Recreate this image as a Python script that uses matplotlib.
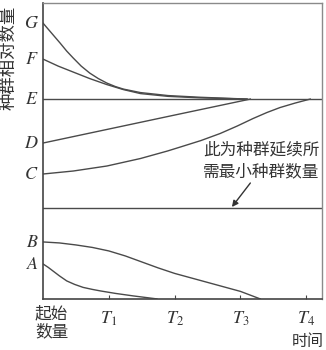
import matplotlib.pyplot as plt

plt.rcParams['font.family'] = ['Noto Sans CJK SC', 'DejaVu Sans']
plt.rcParams['mathtext.fontset'] = 'stix'

start_labels = ["G", "F", "E", "D", "C", "B", "A"]
level_e = 200
level_min = 91

# curve points as (time, relative size)
g_x = [0, 0.13, 0.26, 0.36, 0.46, 0.58, 0.71, 0.84, 0.97, 1.1, 1.22, 1.48, 1.9, 2.39, 3.1]
g_y = [276, 266, 256, 248, 241, 233, 226, 220.5, 216, 212.5, 210, 206.5, 203.5, 201.8, 200]
f_x = [0, 0.23, 0.46, 0.71, 0.97, 1.22, 1.48, 1.9, 2.39, 3.1]
f_y = [240, 233, 227, 220.5, 214.5, 209.5, 205.5, 202.7, 201.2, 200]
d_x = [0, 1.0, 2.0, 3.15]
d_y = [156, 170, 184, 200]
c_x = [0, 0.46, 0.97, 1.48, 1.89, 2.11, 2.4, 2.69, 2.95, 3.19, 3.4, 3.6, 3.83, 4.06]
c_y = [125, 128, 133, 140.5, 148, 152.5, 158.5, 165.5, 173, 180.5, 186.5, 191.5, 196, 200]
b_x = [0, 0.25, 0.5, 0.75, 1.0, 1.25, 1.5, 1.75, 2.0, 2.25, 2.5, 2.75, 3.0, 3.3]
b_y = [57, 56, 54, 51.5, 48, 43, 37, 31, 25.5, 21, 16.5, 12, 7.5, 0]
a_x = [0, 0.08, 0.15, 0.25, 0.36, 0.48, 0.61, 0.75, 0.87, 1.1, 1.37, 1.55, 1.73]
a_y = [35, 31.5, 28, 23, 18, 14.5, 11.5, 9.5, 8, 5.5, 3, 1.5, 0]

t_ticks = [1, 2, 3, 4]
t_labels = [r"$T_1$", r"$T_2$", r"$T_3$", r"$T_4$"]

fig = plt.figure(figsize=(3.26, 3.5), dpi=100)
ax = fig.add_axes([0.132, 0.146, 0.856, 0.845])
ax.set_xlim(0, 4.24)
ax.set_ylim(0, 296)

lc = "#4a4a4a"
lw = 1.0
for xs, ys in [(g_x, g_y), (f_x, f_y), (d_x, d_y), (c_x, c_y), (b_x, b_y), (a_x, a_y)]:
    ax.plot(xs, ys, color=lc, lw=lw)
ax.axhline(level_e, color=lc, lw=lw)
ax.axhline(level_min, color=lc, lw=lw)

# letter beside the starting point of each curve
starts = [g_y[0], f_y[0], level_e, d_y[0], c_y[0], b_y[0], a_y[0]]
for lab, y0 in zip(start_labels, starts):
    ax.text(-0.015, y0, "$" + lab + "$", ha="right", va="center",
            fontsize=13, color="#333333", transform=ax.get_yaxis_transform())

# note about the minimum viable population
ax.text(3.32, 149, "此为种群延续所", ha="center", va="center",
        fontsize=12, color="#333333")
ax.text(3.32, 127, "需最小种群数量", ha="center", va="center",
        fontsize=12, color="#333333")
ax.annotate("", xy=(2.87, level_min + 1), xytext=(3.15, 116),
            arrowprops=dict(arrowstyle="-|>", color="#333333", lw=1.0,
                            mutation_scale=9, shrinkA=0, shrinkB=0))

for side in ["left", "bottom"]:
    ax.spines[side].set_color("#444444")
    ax.spines[side].set_linewidth(1.2)
for side in ["top", "right"]:
    ax.spines[side].set_color("#8a8a8a")
    ax.spines[side].set_linewidth(1.0)

ax.set_yticks([])
ax.set_xticks(t_ticks)
ax.set_xticklabels(t_labels, fontsize=13, color="#333333")
ax.tick_params(axis="x", direction="in", length=3, width=0.8,
               color="#444444", pad=8)

fig.text(0.158, 0.077, "起始\n数量", ha="center", va="center",
         fontsize=12, color="#333333", linespacing=1.05)
fig.text(0.945, 0.023, "时间", ha="center", va="center",
         fontsize=11.5, color="#333333")
fig.text(0.025, 0.834, "种群相对数量", ha="center", va="center",
         rotation=90, fontsize=12.5, color="#333333")

fig.savefig("out.png", dpi=100)
